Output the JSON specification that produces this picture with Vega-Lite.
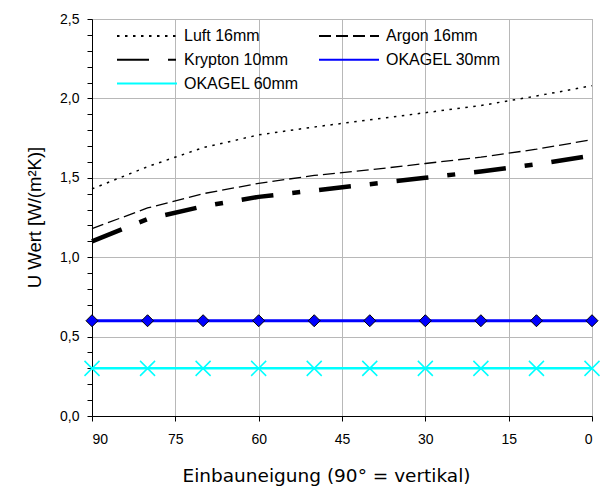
{
  "$schema": "https://vega.github.io/schema/vega-lite/v6.json",
  "width": 500,
  "height": 397,
  "autosize": "none",
  "padding": {"left": 92, "top": 19, "right": 17, "bottom": 72},
  "background": "white",
  "data": {
    "values": [
      {"serie": "Luft 16mm", "neigung": 90, "u": 1.43},
      {"serie": "Luft 16mm", "neigung": 80, "u": 1.57},
      {"serie": "Luft 16mm", "neigung": 70, "u": 1.69},
      {"serie": "Luft 16mm", "neigung": 60, "u": 1.77},
      {"serie": "Luft 16mm", "neigung": 50, "u": 1.82},
      {"serie": "Luft 16mm", "neigung": 40, "u": 1.865},
      {"serie": "Luft 16mm", "neigung": 30, "u": 1.91},
      {"serie": "Luft 16mm", "neigung": 20, "u": 1.955},
      {"serie": "Luft 16mm", "neigung": 10, "u": 2.015},
      {"serie": "Luft 16mm", "neigung": 0, "u": 2.08},
      {"serie": "Argon 16mm", "neigung": 90, "u": 1.18},
      {"serie": "Argon 16mm", "neigung": 80, "u": 1.31},
      {"serie": "Argon 16mm", "neigung": 70, "u": 1.40},
      {"serie": "Argon 16mm", "neigung": 60, "u": 1.465},
      {"serie": "Argon 16mm", "neigung": 50, "u": 1.515},
      {"serie": "Argon 16mm", "neigung": 40, "u": 1.55},
      {"serie": "Argon 16mm", "neigung": 30, "u": 1.59},
      {"serie": "Argon 16mm", "neigung": 20, "u": 1.63},
      {"serie": "Argon 16mm", "neigung": 10, "u": 1.68},
      {"serie": "Argon 16mm", "neigung": 0, "u": 1.74},
      {"serie": "Krypton 10mm", "neigung": 90, "u": 1.10},
      {"serie": "Krypton 10mm", "neigung": 80, "u": 1.24},
      {"serie": "Krypton 10mm", "neigung": 70, "u": 1.32},
      {"serie": "Krypton 10mm", "neigung": 60, "u": 1.38},
      {"serie": "Krypton 10mm", "neigung": 50, "u": 1.42},
      {"serie": "Krypton 10mm", "neigung": 40, "u": 1.46},
      {"serie": "Krypton 10mm", "neigung": 30, "u": 1.50},
      {"serie": "Krypton 10mm", "neigung": 20, "u": 1.54},
      {"serie": "Krypton 10mm", "neigung": 10, "u": 1.585},
      {"serie": "Krypton 10mm", "neigung": 0, "u": 1.64},
      {"serie": "OKAGEL 30mm", "neigung": 90, "u": 0.6},
      {"serie": "OKAGEL 30mm", "neigung": 80, "u": 0.6},
      {"serie": "OKAGEL 30mm", "neigung": 70, "u": 0.6},
      {"serie": "OKAGEL 30mm", "neigung": 60, "u": 0.6},
      {"serie": "OKAGEL 30mm", "neigung": 50, "u": 0.6},
      {"serie": "OKAGEL 30mm", "neigung": 40, "u": 0.6},
      {"serie": "OKAGEL 30mm", "neigung": 30, "u": 0.6},
      {"serie": "OKAGEL 30mm", "neigung": 20, "u": 0.6},
      {"serie": "OKAGEL 30mm", "neigung": 10, "u": 0.6},
      {"serie": "OKAGEL 30mm", "neigung": 0, "u": 0.6},
      {"serie": "OKAGEL 60mm", "neigung": 90, "u": 0.3},
      {"serie": "OKAGEL 60mm", "neigung": 80, "u": 0.3},
      {"serie": "OKAGEL 60mm", "neigung": 70, "u": 0.3},
      {"serie": "OKAGEL 60mm", "neigung": 60, "u": 0.3},
      {"serie": "OKAGEL 60mm", "neigung": 50, "u": 0.3},
      {"serie": "OKAGEL 60mm", "neigung": 40, "u": 0.3},
      {"serie": "OKAGEL 60mm", "neigung": 30, "u": 0.3},
      {"serie": "OKAGEL 60mm", "neigung": 20, "u": 0.3},
      {"serie": "OKAGEL 60mm", "neigung": 10, "u": 0.3},
      {"serie": "OKAGEL 60mm", "neigung": 0, "u": 0.3}
    ]
  },
  "encoding": {
    "x": {
      "field": "neigung",
      "type": "quantitative",
      "scale": {"domain": [0, 90], "reverse": true, "nice": false, "zero": false},
      "axis": {
        "values": [90, 75, 60, 45, 30, 15, 0],
        "format": "d",
        "grid": true,
        "tickSize": 5,
        "labelPadding": 11,
        "labelFontSize": 14,
        "title": "Einbauneigung (90° = vertikal)",
        "titleFont": "DejaVu Sans",
        "titleFontSize": 18.5,
        "titleFontWeight": "normal",
        "titleX": 234,
        "titleY": 59,
        "titleAlign": "center",
        "titleBaseline": "middle"
      }
    },
    "y": {
      "field": "u",
      "type": "quantitative",
      "scale": {"domain": [0, 2.5], "nice": false},
      "axis": {
        "values": [0, 0.1, 0.2, 0.3, 0.4, 0.5, 0.6, 0.7, 0.8, 0.9, 1, 1.1, 1.2, 1.3, 1.4, 1.5, 1.6, 1.7, 1.8, 1.9, 2, 2.1, 2.2, 2.3, 2.4, 2.5],
        "labelExpr": "abs(datum.value * 2 - round(datum.value * 2)) < 0.001 ? replace(format(datum.value, '.1f'), '.', ',') : ''",
        "grid": true,
        "gridOpacity": {
          "condition": {"test": "abs(datum.value * 2 - round(datum.value * 2)) < 0.001", "value": 1},
          "value": 0
        },
        "tickSize": 5,
        "labelPadding": 8,
        "labelFontSize": 14,
        "title": "U Wert [W/(m²K)]",
        "titleFont": "Liberation Sans",
        "titleFontSize": 18.5,
        "titleFontWeight": "normal",
        "titleX": -58,
        "titleY": 198,
        "titleAngle": 270,
        "titleAlign": "center",
        "titleBaseline": "middle"
      }
    }
  },
  "layer": [
    {
      "encoding": {
        "color": {
          "field": "serie",
          "type": "nominal",
          "scale": {
            "domain": ["Luft 16mm", "Argon 16mm", "Krypton 10mm", "OKAGEL 30mm", "OKAGEL 60mm"],
            "range": ["#000000", "#000000", "#000000", "#0000ff", "#00ffff"]
          },
          "legend": {
            "title": null,
            "orient": "none",
            "legendX": 44,
            "legendY": 6,
            "direction": "horizontal",
            "columns": 2,
            "padding": 0,
            "symbolSize": 400,
            "symbolType": "M-3,0H3",
            "symbolStrokeWidth": 2,
            "labelOffset": 26,
            "labelFontSize": 16,
            "labelFont": "Liberation Sans",
            "labelColor": "#000000",
            "columnPadding": 16,
            "rowPadding": 4.8
          }
        },
        "strokeDash": {
          "field": "serie",
          "type": "nominal",
          "scale": {
            "domain": ["Luft 16mm", "Argon 16mm", "Krypton 10mm", "OKAGEL 30mm", "OKAGEL 60mm"],
            "range": [[2.5, 5.5], [12, 5], [32, 19, 8, 19], [1, 0], [1, 0]]
          },
          "legend": {
            "title": null,
            "orient": "none",
            "legendX": 44,
            "legendY": 6,
            "direction": "horizontal",
            "columns": 2,
            "padding": 0,
            "symbolSize": 400,
            "symbolType": "M-3,0H3",
            "symbolStrokeWidth": 2,
            "labelOffset": 26,
            "labelFontSize": 16,
            "labelFont": "Liberation Sans",
            "labelColor": "#000000",
            "columnPadding": 16,
            "rowPadding": 4.8
          }
        }
      },
      "layer": [
        {
          "transform": [{"filter": "datum.serie === 'Luft 16mm'"}],
          "mark": {"type": "line", "strokeWidth": 1.5},
          "encoding": {}
        },
        {
          "transform": [{"filter": "datum.serie === 'Argon 16mm'"}],
          "mark": {"type": "line", "strokeWidth": 1.3},
          "encoding": {}
        },
        {
          "transform": [{"filter": "datum.serie === 'Krypton 10mm'"}],
          "mark": {"type": "line", "strokeWidth": 4.5},
          "encoding": {}
        },
        {
          "transform": [{"filter": "datum.serie === 'OKAGEL 30mm'"}],
          "mark": {"type": "line", "strokeWidth": 3},
          "encoding": {}
        },
        {
          "transform": [{"filter": "datum.serie === 'OKAGEL 60mm'"}],
          "mark": {"type": "line", "strokeWidth": 2.5},
          "encoding": {}
        }
      ]
    },
    {
      "transform": [{"filter": "datum.serie === 'OKAGEL 30mm'"}],
      "mark": {"type": "point", "shape": "diamond", "filled": true, "fill": "#0000ff", "stroke": "#000000", "strokeWidth": 1, "size": 144, "opacity": 1},
      "encoding": {}
    },
    {
      "transform": [{"filter": "datum.serie === 'OKAGEL 60mm'"}],
      "mark": {"type": "point", "shape": "M-1,-1L1,1M-1,1L1,-1", "filled": false, "stroke": "#00ffff", "strokeWidth": 1.5, "size": 225, "opacity": 1},
      "encoding": {}
    }
  ],
  "config": {
    "font": "Liberation Sans",
    "view": {"stroke": "#a0a0a0", "strokeWidth": 1},
    "axis": {
      "domainColor": "#000000",
      "domainWidth": 1,
      "tickColor": "#000000",
      "tickWidth": 1,
      "gridColor": "#b8b8b8",
      "gridWidth": 1,
      "labelColor": "#000000",
      "labelFont": "Liberation Sans",
      "titleColor": "#000000"
    }
  }
}
